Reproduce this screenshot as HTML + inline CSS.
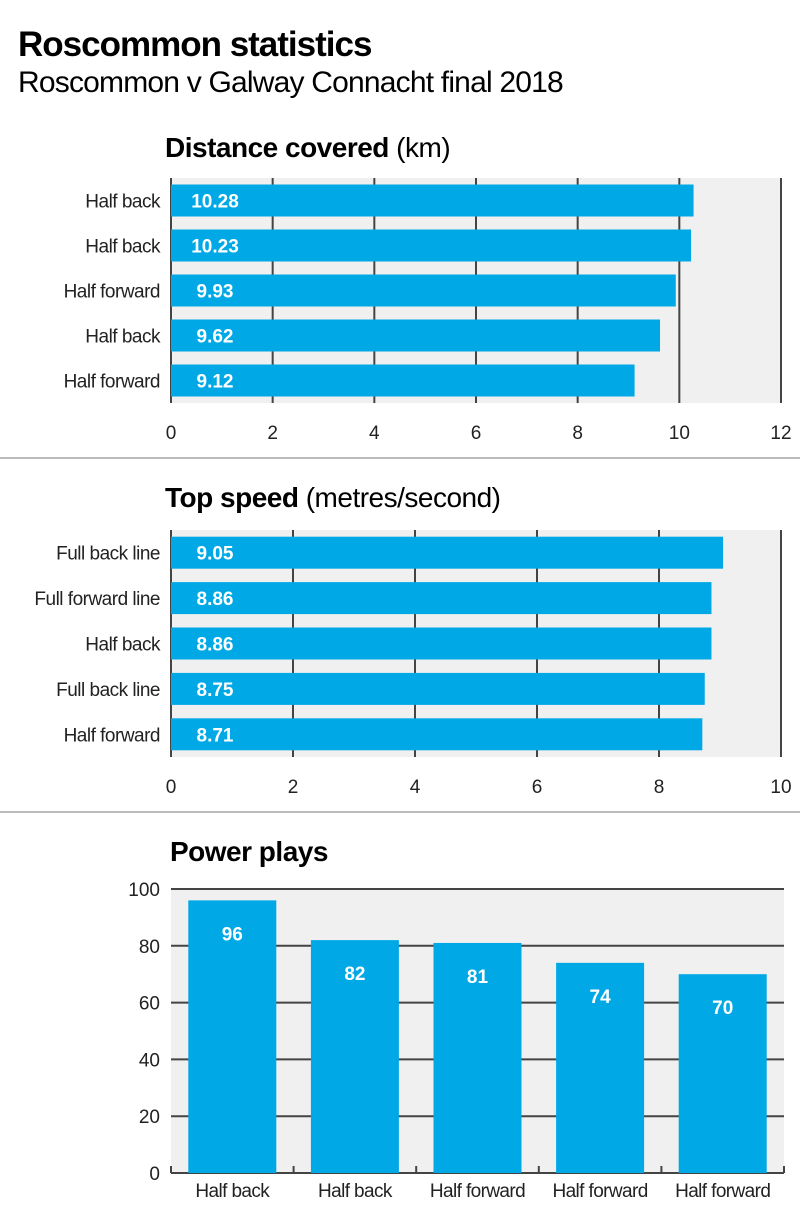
<!DOCTYPE html>
<html><head><meta charset="utf-8"><style>
body{margin:0;background:#fff;font-family:"Liberation Sans",sans-serif;}
svg text{font-family:"Liberation Sans",sans-serif;}
</style></head><body>
<svg width="800" height="1216" xmlns="http://www.w3.org/2000/svg">
<text x="18" y="56" font-size="35" font-weight="bold" letter-spacing="-1">Roscommon statistics</text>
<text x="18" y="92" font-size="30" letter-spacing="-0.8">Roscommon v Galway Connacht final 2018</text>
<g id="c1"></g>
<line x1="0" y1="458" x2="800" y2="458" stroke="#bbb" stroke-width="2"/>
<g id="c2"></g>
<line x1="0" y1="812" x2="800" y2="812" stroke="#bbb" stroke-width="2"/>
<g id="c3"></g>
</svg>
<script>
const NS="http://www.w3.org/2000/svg";
function mk(p,t,a,txt){const e=document.createElementNS(NS,t);for(const k in a)e.setAttribute(k,a[k]);if(txt!==undefined)e.textContent=txt;p.appendChild(e);return e;}
const BLUE="#00a9e6";
const distCats=["Half back","Half back","Half forward","Half back","Half forward"];
const distVals=[10.28,10.23,9.93,9.62,9.12];
const distTicks=[0,2,4,6,8,10,12];
const speedCats=["Full back line","Full forward line","Half back","Full back line","Half forward"];
const speedVals=[9.05,8.86,8.86,8.75,8.71];
const speedTicks=[0,2,4,6,8,10];
const powerCats=["Half back","Half back","Half forward","Half forward","Half forward"];
const powerVals=[96,82,81,74,70];
const powerTicks=[0,20,40,60,80,100];

function hchart(g,title,unit,titleY,cats,vals,ticks,top,bottom){
  const t=mk(g,"text",{x:165,y:titleY,"font-size":28,"letter-spacing":"-0.5"});
  
  const b=mk(t,"tspan",{"font-weight":"bold"},title);mk(t,"tspan",{},unit);
  const x0=171,x1=781,max=ticks[ticks.length-1];
  const xs=v=>x0+(x1-x0)*v/max;
  const bg=mk(g,"rect",{x:x0,y:top,width:x1-x0,height:bottom-top,fill:"#f0f0f0"});
  
  ticks.forEach(v=>{
    const l=mk(g,"line",{x1:xs(v),x2:xs(v),y1:top,y2:bottom,stroke:"#444","stroke-width":2});
    
    const tl=mk(g,"text",{x:xs(v),y:bottom+36,"font-size":19,"text-anchor":"middle",fill:"#222"},String(v));
    
  });
  const n=cats.length,step=(bottom-top)/n,bh=32;
  cats.forEach((c,i)=>{
    const cy=top+step*(i+0.5);
    const r=mk(g,"rect",{x:x0,y:cy-bh/2,width:xs(vals[i])-x0,height:bh,fill:BLUE});
    
    const vl=mk(g,"text",{x:x0+44,y:cy+7,"font-size":19,"font-weight":"bold",fill:"#fff","text-anchor":"middle"},vals[i].toFixed(2));
    
    const cl=mk(g,"text",{x:160,y:cy+7,"font-size":19,"text-anchor":"end",fill:"#222","letter-spacing":"-0.5"},c);
    
  });
}
hchart(document.getElementById("c1"),"Distance covered"," (km)",157,distCats,distVals,distTicks,178,403);
hchart(document.getElementById("c2"),"Top speed"," (metres/second)",507,speedCats,speedVals,speedTicks,530,757);

(function(){
  const g=document.getElementById("c3");
  const t=mk(g,"text",{x:170,y:861,"font-size":28,"font-weight":"bold","letter-spacing":"-0.5"},"Power plays");
  
  const x0=171,x1=784,y0=1173,y1=889,max=100;
  const ys=v=>y0-(y0-y1)*v/max;
  const bg=mk(g,"rect",{x:x0,y:y1,width:x1-x0,height:y0-y1,fill:"#f0f0f0"});
  
  powerTicks.forEach(v=>{
    const l=mk(g,"line",{x1:x0,x2:x1,y1:ys(v),y2:ys(v),stroke:"#444","stroke-width":2});
    
    const tl=mk(g,"text",{x:160,y:ys(v)+7,"font-size":19,"text-anchor":"end",fill:"#222"},String(v));
    
  });
  const n=powerCats.length,step=(x1-x0)/n,bw=88;
  for(let i=0;i<=n;i++){
    const tk=mk(g,"line",{x1:x0+step*i,x2:x0+step*i,y1:y0-7,y2:y0,stroke:"#444","stroke-width":2});
    
  }
  powerCats.forEach((c,i)=>{
    const cx=x0+step*(i+0.5);
    const r=mk(g,"rect",{x:cx-bw/2,y:ys(powerVals[i]),width:bw,height:y0-ys(powerVals[i]),fill:BLUE});
    
    const vl=mk(g,"text",{x:cx,y:ys(powerVals[i])+40,"font-size":19,"font-weight":"bold",fill:"#fff","text-anchor":"middle"},String(powerVals[i]));
    
    const cl=mk(g,"text",{x:cx,y:1197,"font-size":19,"text-anchor":"middle",fill:"#222","letter-spacing":"-0.6"},c);
    
  });
})();
</script>
</body></html>
